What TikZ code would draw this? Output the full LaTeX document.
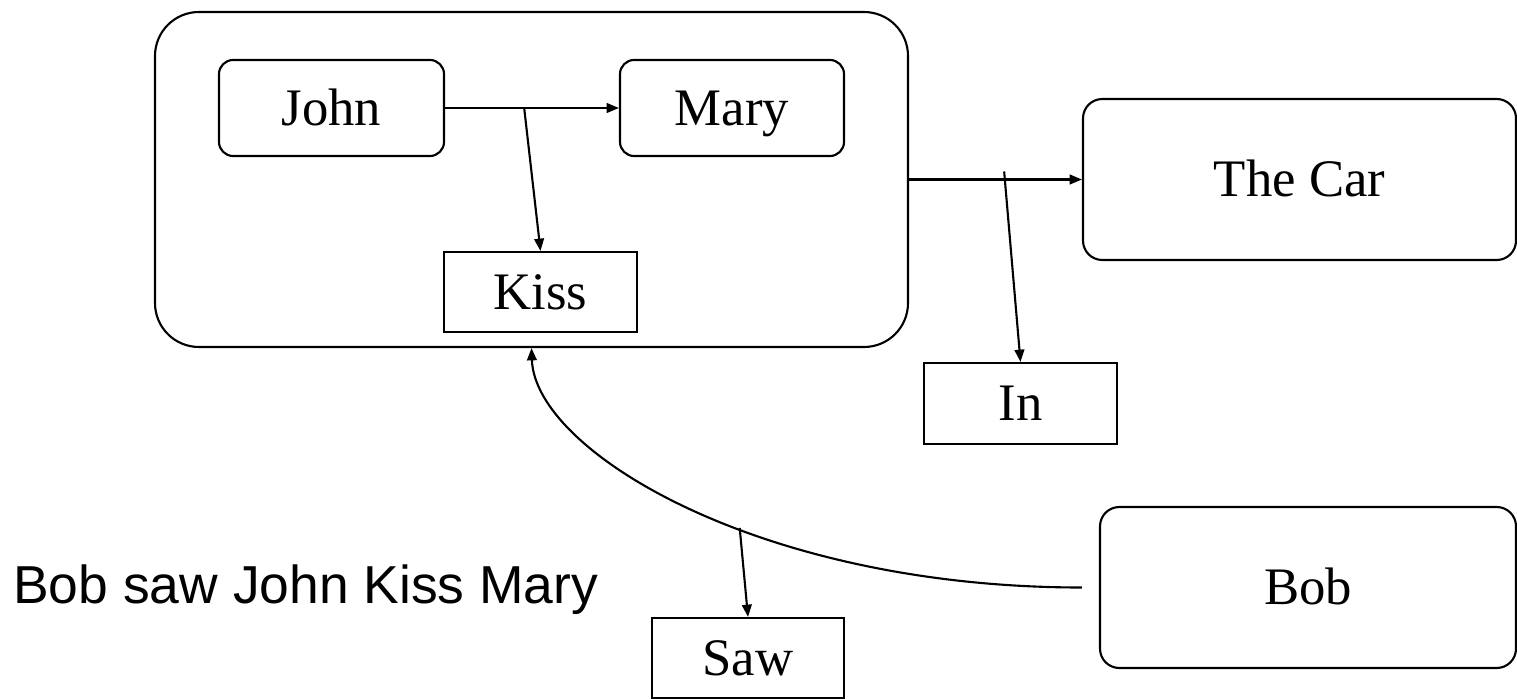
\documentclass[tikz,border=0pt]{standalone}
\usepackage{fontspec}
\setmainfont{Liberation Serif}
\newfontfamily\arialfont{Liberation Sans}
\usepackage{tikz}
\usetikzlibrary{arrows.meta,positioning,calc}
\newcommand{\boxfont}{\fontsize{30}{36}\selectfont}

\begin{document}
\begin{tikzpicture}[
    box/.style={rectangle, draw, line width=1.2pt, inner sep=0pt, font=\boxfont, text height=19.8pt, text depth=0pt},
    rbox/.style={box, rounded corners=#1},
    rbox/.default=8pt,
    arrow/.style={-{Triangle[length=7pt,width=5.5pt]}, line width=1.2pt}
]
    \useasboundingbox (0,0) rectangle (30.34,13.96);

    % Outer box (John kiss Mary)
    \node[rbox=25pt, minimum width=15.06cm, minimum height=6.70cm] (outer) at (10.63,10.37) {};
    \node[rbox, minimum width=4.5cm, minimum height=1.92cm] (john) at (6.63,11.80) {John};
    \node[rbox, minimum width=4.48cm, minimum height=1.92cm] (mary) at (14.64,11.80) {Mary};
    \node[box, minimum width=3.86cm, minimum height=1.6cm] (kiss) at (10.81,8.12) {Kiss};

    % Right side
    \node[rbox=11pt, minimum width=8.66cm, minimum height=3.22cm] (car) at (25.99,10.37) {The Car};
    \node[box, minimum width=3.86cm, minimum height=1.62cm] (in) at (20.41,5.89) {In};
    \node[rbox=11pt, minimum width=8.32cm, minimum height=3.22cm] (bob) at (26.16,2.21) {Bob};
    \node[box, minimum width=3.84cm, minimum height=1.6cm] (saw) at (14.96,0.8) {Saw};

    % Sentence
    \node[font=\arialfont\fontsize{30.4}{36}\selectfont, anchor=base west, inner sep=0pt] (sentence) at (0.26,1.9) {Bob saw John Kiss Mary};

    % Arrows
    \draw[arrow] (john.east) -- coordinate[pos=0.455] (kisssrc) (mary.west);
    \draw[arrow] (kisssrc) -- (kiss.north);
    \draw[arrow] (outer.east) -- coordinate[pos=0.55] (insrc) (car.west);
    \draw[arrow] ([yshift=0.16cm]insrc) -- (in.north);
    \draw[arrow, shorten <=0.34cm] (bob.west) .. controls +(-6.8,0) and +(0.07,-2.06) .. coordinate[pos=0.42] (sawsrc) (outer.south);
    \draw[arrow] (sawsrc) -- (saw.north);
\end{tikzpicture}
\end{document}
